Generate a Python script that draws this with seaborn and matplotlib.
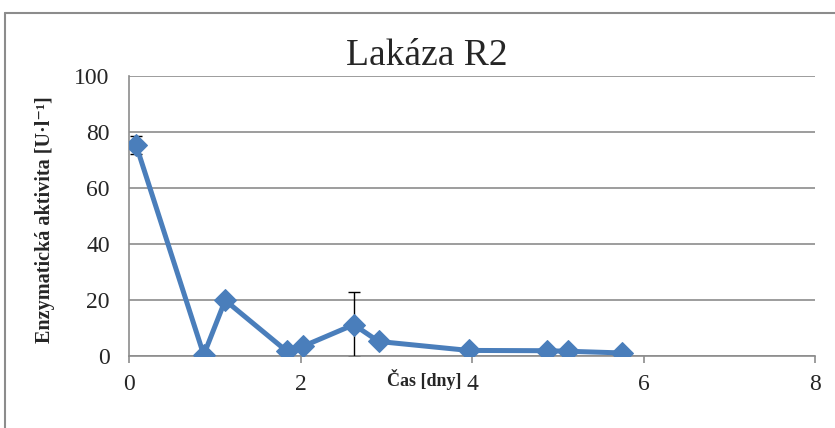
import matplotlib
matplotlib.use("Agg")
import matplotlib.pyplot as plt
from matplotlib.lines import Line2D
import seaborn as sns
import pandas as pd

# Laccase activity over time
days = [0.08, 0.87, 1.12, 1.84, 2.03, 2.62, 2.91, 3.96, 4.87, 5.12, 5.75]
activity = [75.5, 0.5, 20.0, 1.8, 3.6, 11.3, 5.3, 2.1, 2.0, 1.8, 1.2]
errors = [3.3, 0.0, 1.0, 0.0, 0.0, 11.6, 0.0, 0.0, 0.0, 0.0, 0.0]

x_ticks = [0, 2, 4, 6, 8]
y_ticks = [0, 20, 40, 60, 80, 100]

title = "Lakáza R2"
x_label = "Čas [dny]"
y_label = "Enzymatická aktivita [U·l⁻¹]"

df = pd.DataFrame({"days": days, "activity": activity, "err": errors})

sns.set_theme(style="white")
serif = ["Liberation Serif", "DejaVu Serif"]
plt.rcParams["font.family"] = serif

fig = plt.figure(figsize=(8.35, 4.28), dpi=100)
ax = fig.add_axes([0.1547, 0.1675, 0.976 - 0.1547, 0.8217 - 0.1675])

blue = "#4A7EBB"
grid_gray = "#8C8C8C"

# error bars sit behind the markers
ax.errorbar(df["days"], df["activity"], yerr=df["err"], fmt="none",
            ecolor="black", elinewidth=1.0, capsize=4, capthick=1.0, zorder=2)

sns.lineplot(data=df, x="days", y="activity", ax=ax, color=blue,
             linewidth=3.6, marker="D", markersize=11,
             markerfacecolor=blue, markeredgecolor=blue, zorder=3)

ax.set_xlim(0, 8)
ax.set_ylim(0, 100)
ax.set_xticks(x_ticks)
ax.set_yticks(y_ticks)
ax.set_xticklabels([str(t) for t in x_ticks], fontsize=17)
ax.set_yticklabels([str(t) for t in y_ticks], fontsize=17)
ax.tick_params(axis="x", direction="out", length=5, width=1.2,
               color=grid_gray, pad=8, bottom=True)
ax.tick_params(axis="y", length=0, pad=14)

ax.yaxis.grid(True, color=grid_gray, linewidth=1.2)
ax.set_axisbelow(True)
for side in ["top", "right"]:
    ax.spines[side].set_visible(False)
for side in ["left", "bottom"]:
    ax.spines[side].set_color(grid_gray)
    ax.spines[side].set_linewidth(1.2)
ax.spines["bottom"].set_zorder(1)

ax.set_xlabel("")
ax.set_ylabel("")
fig.text(0.511, 1 - 56 / 428, title, ha="center", va="center", fontsize=27,
         family=serif)
fig.text(424 / 835, 1 - 380 / 428, x_label, ha="center", va="center",
         fontsize=13, fontweight="bold", family=serif)
fig.text(45 / 835, 1 - 220 / 428, y_label, ha="center", va="center",
         rotation=90, fontsize=14.5, fontweight="bold", family=serif)

# chart frame
frame = "#8C8C8C"
fig.add_artist(Line2D([4.5 / 835, 1.0], [1 - 13 / 428, 1 - 13 / 428],
                      transform=fig.transFigure, color=frame, linewidth=1.5))
fig.add_artist(Line2D([4.5 / 835, 4.5 / 835], [0.0, 1 - 13 / 428],
                      transform=fig.transFigure, color=frame, linewidth=1.5))

fig.savefig("out.png", dpi=100)
